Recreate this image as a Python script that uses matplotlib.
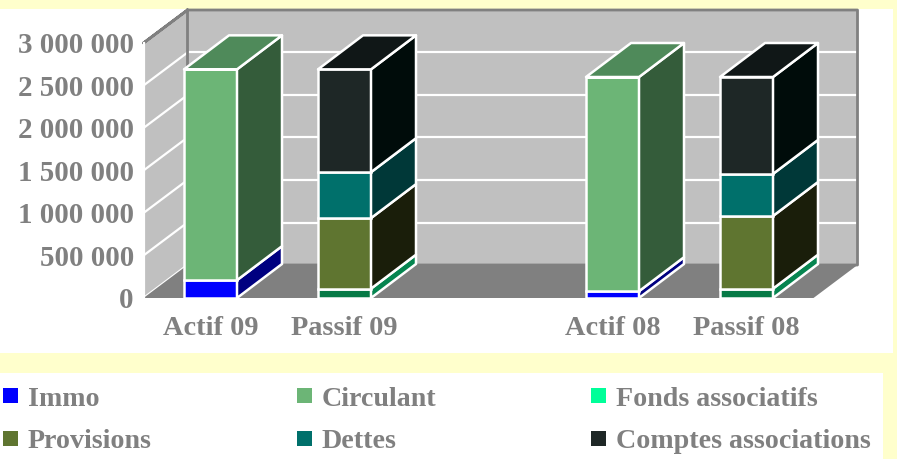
import matplotlib
matplotlib.use('Agg')
import matplotlib.pyplot as plt
from matplotlib.patches import Polygon, Rectangle

categories = ['Actif 09', 'Passif 09', 'Actif 08', 'Passif 08']
positions = [0, 1, 3, 4]
series_names = ['Immo', 'Circulant', 'Fonds associatifs', 'Provisions', 'Dettes', 'Comptes associations']
immo = [210000, 0, 80000, 0]
circulant = [2480000, 0, 2520000, 0]
fonds = [0, 110000, 0, 110000]
provisions = [0, 830000, 0, 855000]
dettes = [0, 540000, 0, 495000]
comptes = [0, 1210000, 0, 1140000]
series_values = [immo, circulant, fonds, provisions, dettes, comptes]
y_ticks = [0, 500000, 1000000, 1500000, 2000000, 2500000, 3000000]
y_labels = ['0', '500 000', '1 000 000', '1 500 000', '2 000 000', '2 500 000', '3 000 000']

front_colors = ['#0000FF', '#6CB576', '#067A46', '#5F7530', '#00706B', '#1E2726']
side_colors = ['#000080', '#345C3A', '#068550', '#1A1E0A', '#003838', '#000C0A']
top_colors = ['#0000C0', '#4F8A5A', '#067A46', '#45551F', '#005050', '#101717']
legend_colors = ['#0000FF', '#6CB576', '#00FF99', '#5F7530', '#00706B', '#1E2726']

GREY = '#808080'
FONT = 'Liberation Serif'
W, H = 897, 459
PX_X = 134.0          # pixels per category slot
PX_Y = 85.0 / 1000000  # pixels per unit
BAR_W = 53 / PX_X
# 3d offset of the chart box and of the bars, in data units
DX = 44 / PX_X
DY = 33 / PX_Y
BDX = 45 / PX_X
BDY = 34 / PX_Y

fig = plt.figure(figsize=(W / 100, H / 100), dpi=100, facecolor='#FFFFCC')

# background panels and legend, in pixels
bg = fig.add_axes([0, 0, 1, 1], zorder=0)
bg.set_xlim(0, W)
bg.set_ylim(H, 0)
bg.axis('off')
bg.add_patch(Rectangle((0, 9), 893, 344, fc='white', ec='none'))
bg.add_patch(Rectangle((0, 373), 883, 86, fc='white', ec='none'))

for i, name in enumerate(series_names):
    lx = 5 + 294 * (i % 3)
    ly = 396 + 43 * (i // 3)
    bg.add_patch(Rectangle((lx - 2, ly - 8), 15, 15, fc=legend_colors[i], ec='none'))
    bg.text(lx + 23, ly + 3, name, family=FONT, weight='bold', fontsize=20.2, color=GREY, va='center', ha='left')

ax = fig.add_axes([143.5 / W, 1 - 298 / H, 670 / W, 255 / H], zorder=1)
ax.set_xlim(-0.5, 4.5)
ax.set_ylim(0, 3000000)
ax.patch.set_visible(False)
for s in ax.spines.values():
    s.set_visible(False)

x0, x1 = -0.5, 4.5
y1 = 3000000


def poly(pts, fc, ec='none', lw=0, z=1):
    ax.add_patch(Polygon(pts, closed=True, fc=fc, ec=ec, lw=lw, clip_on=False, zorder=z, joinstyle='round'))


# walls and floor
poly([(x0 + DX, 0 + DY), (x1 + DX, DY), (x1 + DX, y1 + DY), (x0 + DX, y1 + DY)], '#C0C0C0')
poly([(x0, 0), (x0 + DX, DY), (x0 + DX, y1 + DY), (x0, y1)], '#C0C0C0')
for t in y_ticks[1:-1]:
    ax.plot([x0 + DX, x1 + DX], [t + DY, t + DY], color='white', lw=1.6, clip_on=False, zorder=1.1)
for t in y_ticks[:-1]:
    ax.plot([x0, x0 + DX], [t, t + DY], color='white', lw=1.6, clip_on=False, zorder=1.1)
poly([(x0, 0), (x1, 0), (x1 + DX, DY), (x0 + DX, DY)], GREY, z=1.2)
ax.plot([x0, x0], [0, y1], color='white', lw=1.6, clip_on=False, zorder=1.3)
ax.plot([x0 + DX, x0, x0 + DX, x0 + DX, x1 + DX, x1 + DX, x0 + DX], [y1 + DY, y1, y1 + DY, DY, DY, y1 + DY, y1 + DY],
        color=GREY, lw=2, clip_on=False, zorder=1.25)

# bars, stacked from the floor
bottoms = [0, 0, 0, 0]
totals = [sum(v[k] for v in series_values) for k in range(4)]
for i, values in enumerate(series_values):
    ax.bar(positions, values, width=BAR_W, bottom=bottoms, color=front_colors[i], edgecolor='white',
           linewidth=1.8, zorder=3, clip_on=False)
    for k, p in enumerate(positions):
        v = values[k]
        if v == 0:
            continue
        b = bottoms[k]
        xr = p + BAR_W / 2
        xl = p - BAR_W / 2
        poly([(xr, b), (xr + BDX, b + BDY), (xr + BDX, b + v + BDY), (xr, b + v)], side_colors[i], 'white', 1.8, 3)
        if b + v == totals[k]:
            poly([(xl, b + v), (xr, b + v), (xr + BDX, b + v + BDY), (xl + BDX, b + v + BDY)],
                 top_colors[i], 'white', 1.8, 3)
    bottoms = [b + v for b, v in zip(bottoms, values)]

ax.set_yticks(y_ticks)
ax.set_yticklabels(y_labels, family=FONT, weight='bold', fontsize=20.9, color=GREY)
ax.set_xticks(positions)
ax.set_xticklabels(categories, family=FONT, weight='bold', fontsize=20.4, color=GREY)
ax.tick_params(axis='y', length=0, pad=7)
ax.tick_params(axis='x', length=0, pad=13)

fig.savefig('out.png', dpi=100, facecolor=fig.get_facecolor())
